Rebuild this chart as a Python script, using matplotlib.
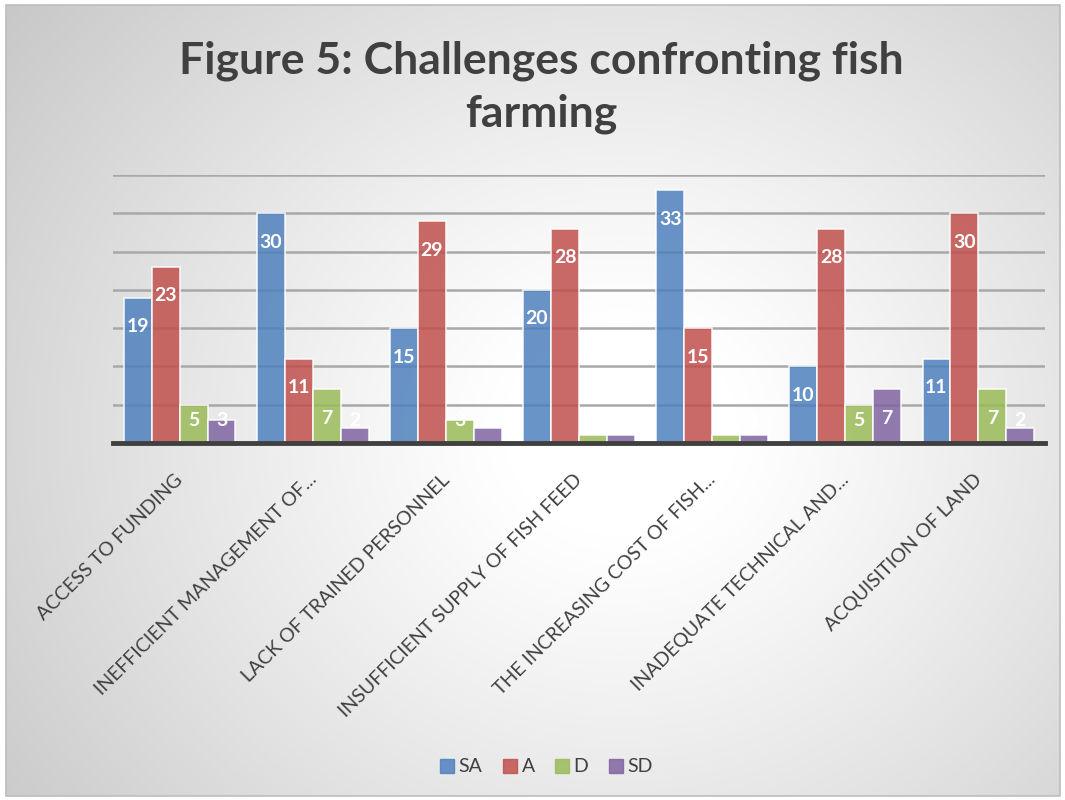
import matplotlib.pyplot as plt
import numpy as np
from matplotlib.patches import Rectangle
from matplotlib.lines import Line2D

categories = ["ACCESS TO FUNDING", "INEFFICIENT MANAGEMENT OF...",
              "LACK OF TRAINED PERSONNEL", "INSUFFICIENT SUPPLY OF FISH FEED",
              "THE INCREASING COST OF FISH...", "INADEQUATE TECHNICAL AND...",
              "ACQUISITION OF LAND"]
series = ["SA", "A", "D", "SD"]
sa = [19, 30, 15, 20, 33, 10, 11]
a = [23, 11, 29, 28, 15, 28, 30]
d = [5, 7, 3, 1, 1, 5, 7]
sd = [3, 2, 2, 1, 1, 7, 2]
colors = ["#4f81bd", "#c0504d", "#9bbb59", "#8064a2"]

plt.rcParams['font.family'] = ['Lato', 'DejaVu Sans']

fig = plt.figure(figsize=(10.65, 8), dpi=100)

# radial grey background, white in the middle
bg = fig.add_axes([0, 0, 1, 1], zorder=-10)
W, H = 1065, 800
yy, xx = np.mgrid[0:H, 0:W]
r = np.hypot(xx - 620, (yy - 430) / 0.9)
r = r / r.max()
v = 1.0 - 0.22 * np.clip((r - 0.15) / 0.85, 0, 1) ** 1.1
img = np.dstack([v, v, v])
img[:5, :] = 1
img[:, :6] = 1
img[-4:, :] = 1
img[:, -5:] = 1
bg.imshow(img, extent=[0, W, H, 0], aspect='auto', interpolation='bilinear')
bg.add_patch(Rectangle((6, 5), W - 11, H - 9, fill=False, ec="#bdbdbd", lw=1.2))
bg.set_xlim(0, W)
bg.set_ylim(H, 0)
bg.axis('off')

ax = fig.add_axes([113 / W, (H - 443) / H, 932 / W, 268 / H])
ax.patch.set_alpha(0)

x = np.arange(len(categories))
bw = 0.21
data = [sa, a, d, sd]
for i, (vals, c) in enumerate(zip(data, colors)):
    pos = x + (i - 1.5) * bw
    ax.bar(pos, vals, bw, color=c, alpha=0.85, edgecolor=(1, 1, 1, 0.6),
           linewidth=1.2, zorder=3, label=series[i])
    for p, val in zip(pos, vals):
        ax.text(p, max(val - 3.8, 3.0), str(val), color="white",
                fontsize=14, fontweight='bold', ha='center', va='center',
                zorder=4)

ax.set_xlim(-0.5, len(categories) - 0.5)
ax.set_ylim(0, 35)
ax.set_yticks(np.arange(5, 36, 5))
ax.yaxis.grid(True, color="#a8a8a8", lw=1.8, zorder=1)
ax.tick_params(axis='y', length=0, labelleft=False)
for s in ['top', 'right', 'left']:
    ax.spines[s].set_visible(False)
ax.spines['bottom'].set_color("#404040")
ax.spines['bottom'].set_linewidth(3.5)
ax.spines['bottom'].set_zorder(5)

ax.set_xticks(x - 0.04)
ax.set_xticklabels(categories, rotation=45, ha='right', va='top',
                   rotation_mode='anchor', fontsize=14, color="#404040")
ax.tick_params(axis='x', length=0, pad=20)

fig.text(541 / W, 1 - 87 / H, "Figure 5: Challenges confronting fish\nfarming",
         fontsize=32, fontweight='bold', color="#404040",
         ha='center', va='center', linespacing=1.38)

handles = [Line2D([], [], marker='s', ls='none', markersize=10,
                  markerfacecolor=c, markeredgecolor=c, alpha=0.85)
           for c in colors]
fig.legend(handles, series, loc='center', bbox_to_anchor=(545 / W, 1 - 767 / H),
           ncol=4, frameon=False, fontsize=14, handletextpad=0.1,
           columnspacing=0.9, handlelength=1.0, labelcolor="#404040")

fig.savefig("out.png", dpi=100)
